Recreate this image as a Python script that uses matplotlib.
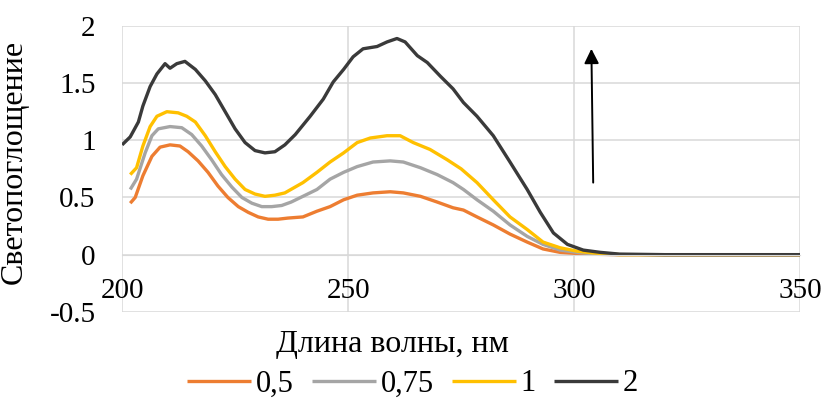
import matplotlib
matplotlib.use("Agg")
import matplotlib.pyplot as plt

# wavelength (nm) / absorbance
x_05 = [201.8, 202.9, 204.6, 206.6, 208.4, 210.6, 212.8, 214.6, 216.8, 219.0, 221.2,
        223.4, 225.7, 227.9, 230.1, 232.3, 234.5, 236.7, 240.0, 243.1, 246.0, 249.0,
        252.0, 255.5, 259.3, 262.2, 266.0, 269.7, 273.2, 275.5, 278.5, 282.1, 285.8,
        289.6, 293.1, 296.9, 300.7, 305.0, 310.0, 320.0, 335.0, 350.0]
y_05 = [0.45, 0.50, 0.69, 0.86, 0.94, 0.96, 0.95, 0.90, 0.82, 0.72, 0.60,
        0.50, 0.42, 0.37, 0.33, 0.31, 0.31, 0.32, 0.33, 0.38, 0.42, 0.48,
        0.52, 0.54, 0.55, 0.54, 0.51, 0.46, 0.41, 0.39, 0.33, 0.26, 0.18,
        0.11, 0.05, 0.02, 0.01, 0.003, 0.0, 0.0, 0.0, 0.0]

x_075 = [201.8, 203.2, 205.1, 206.6, 208.0, 210.6, 213.2, 215.4, 217.6, 219.8, 222.0,
         224.3, 226.5, 228.7, 230.9, 233.1, 235.3, 237.4, 240.0, 243.1, 246.0, 249.0,
         252.0, 255.5, 259.3, 262.2, 266.0, 269.7, 273.2, 275.5, 278.5, 282.1, 285.8,
         289.6, 293.1, 296.9, 300.7, 305.0, 310.0, 320.0, 335.0, 350.0]
y_075 = [0.57, 0.66, 0.89, 1.04, 1.10, 1.12, 1.11, 1.05, 0.95, 0.83, 0.70,
         0.59, 0.50, 0.45, 0.42, 0.42, 0.43, 0.46, 0.51, 0.57, 0.66, 0.72,
         0.77, 0.81, 0.82, 0.81, 0.76, 0.70, 0.63, 0.57, 0.48, 0.38, 0.26,
         0.16, 0.09, 0.04, 0.02, 0.005, 0.0, 0.0, 0.0, 0.0]

x_1 = [201.8, 203.2, 204.6, 206.2, 207.7, 209.9, 212.4, 214.3, 216.2, 218.4, 220.6,
       222.8, 225.0, 227.2, 229.4, 231.6, 233.8, 236.0, 240.0, 243.1, 246.0, 249.0,
       252.0, 254.9, 258.6, 261.5, 264.4, 268.1, 271.9, 275.0, 278.5, 282.1, 285.8,
       289.6, 293.1, 296.9, 300.7, 304.2, 310.0, 320.0, 335.0, 350.0]
y_1 = [0.70, 0.76, 0.95, 1.12, 1.21, 1.25, 1.24, 1.21, 1.16, 1.04, 0.90,
       0.77, 0.66, 0.57, 0.53, 0.51, 0.52, 0.54, 0.63, 0.72, 0.81, 0.89,
       0.98, 1.02, 1.04, 1.04, 0.98, 0.92, 0.83, 0.75, 0.63, 0.48, 0.33,
       0.22, 0.11, 0.06, 0.03, 0.015, 0.0, 0.0, 0.0, 0.0]

x_2 = [200.0, 201.8, 203.6, 204.6, 206.2, 207.7, 209.5, 210.6, 212.1, 213.9, 216.2,
       218.4, 220.6, 222.8, 225.0, 227.2, 229.4, 231.6, 233.8, 236.0, 238.3, 241.6,
       244.5, 246.7, 249.0, 251.1, 253.3, 256.4, 258.6, 260.8, 262.6, 265.3, 267.5,
       270.4, 273.2, 275.5, 278.5, 282.1, 285.8, 289.6, 292.5, 295.4, 298.5, 302.0,
       305.8, 310.0, 320.0, 335.0, 350.0]
y_2 = [0.96, 1.03, 1.16, 1.30, 1.47, 1.58, 1.67, 1.63, 1.67, 1.69, 1.62,
       1.52, 1.40, 1.25, 1.10, 0.98, 0.91, 0.89, 0.90, 0.96, 1.05, 1.21,
       1.36, 1.51, 1.62, 1.73, 1.80, 1.82, 1.86, 1.89, 1.86, 1.74, 1.68,
       1.56, 1.45, 1.33, 1.21, 1.04, 0.81, 0.57, 0.37, 0.19, 0.09, 0.04,
       0.02, 0.005, 0.0, 0.0, 0.0]

series = [
    ("0,5", x_05, y_05, "#ED7D31"),
    ("0,75", x_075, y_075, "#A5A5A5"),
    ("1", x_1, y_1, "#FFC000"),
    ("2", x_2, y_2, "#3A3A3A"),
]

x_ticks = [200, 250, 300, 350]
y_ticks = [-0.5, 0, 0.5, 1, 1.5, 2]
y_tick_labels = ["-0.5", "0", "0.5", "1", "1.5", "2"]

plt.rcParams['font.family'] = ['Liberation Serif', 'DejaVu Serif']

fig = plt.figure(figsize=(8.25, 4.05), dpi=100)
ax = fig.add_axes([0.148, 0.230, 0.822, 0.706])

for label, xs, ys, c in series:
    ax.plot(xs, ys, color=c, lw=2.4, label=label, solid_capstyle='butt')

ax.set_xlim(200, 350)
ax.set_ylim(-0.5, 2)
ax.set_xticks(x_ticks)
ax.set_yticks(y_ticks)
ax.set_yticklabels(y_tick_labels)
ax.grid(True, color="#d9d9d9", lw=1.1)
ax.set_axisbelow(True)

for s in ['top', 'right', 'left']:
    ax.spines[s].set_visible(False)
ax.spines['bottom'].set_position(('data', 0))
ax.spines['bottom'].set_color("#d9d9d9")
ax.tick_params(axis='both', length=0, labelsize=21)
ax.tick_params(axis='x', pad=17)
ax.tick_params(axis='y', pad=19)

ax.set_ylabel("Светопоглощение", fontsize=23)
ax.yaxis.set_label_coords(-0.137, 0.525)
ax.set_xlabel("Длина волны, нм", fontsize=23)
ax.xaxis.set_label_coords(0.398, -0.065)

# arrow showing growth with concentration
ax.annotate("", xy=(303.8, 1.80), xytext=(304.2, 0.63),
            arrowprops=dict(arrowstyle='-|>', color='black', lw=1.4,
                            mutation_scale=22, shrinkA=0, shrinkB=0))

fig.legend(loc='center', bbox_to_anchor=(0.500, 0.052), ncol=4, frameon=False,
           fontsize=22, handlelength=2.1, handletextpad=0.15, columnspacing=0.6)

fig.savefig("out.png", dpi=100)
